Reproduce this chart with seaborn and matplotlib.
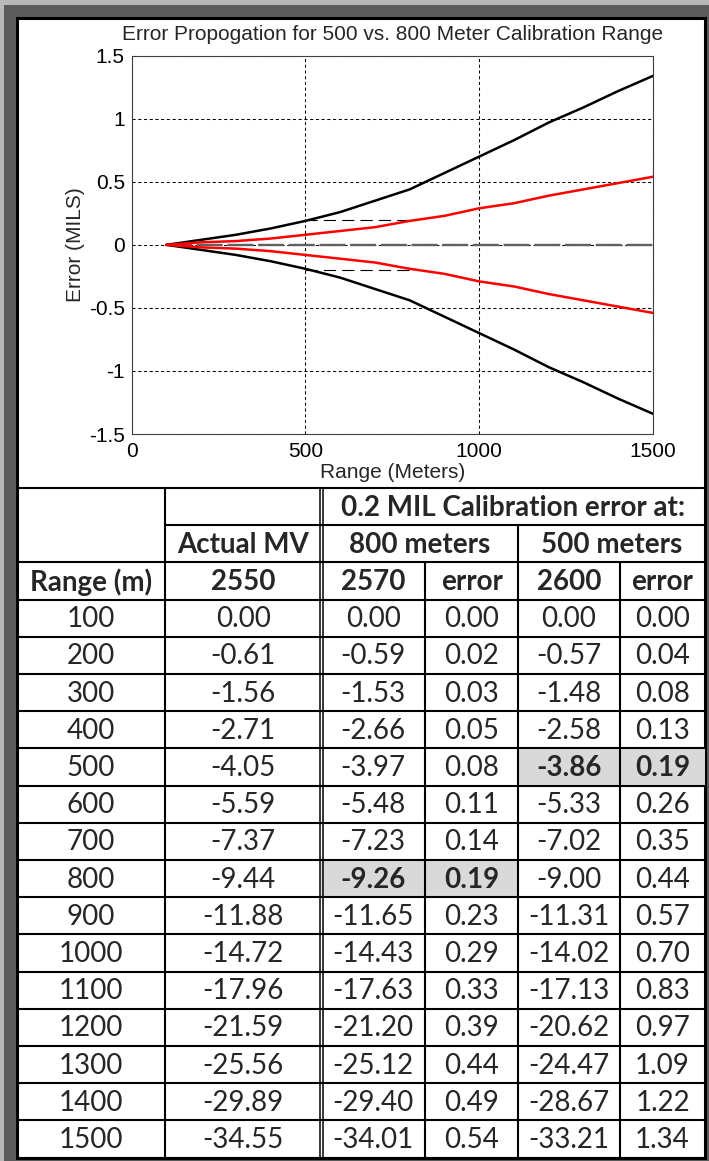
import numpy as np
import pandas as pd
import matplotlib
matplotlib.use("Agg")
import matplotlib.pyplot as plt
import seaborn as sns
from matplotlib.patches import Rectangle

ranges = [100, 200, 300, 400, 500, 600, 700, 800, 900, 1000, 1100, 1200, 1300, 1400, 1500]
actual_mv = [0.00, -0.61, -1.56, -2.71, -4.05, -5.59, -7.37, -9.44, -11.88, -14.72,
             -17.96, -21.59, -25.56, -29.89, -34.55]
mv_2570 = [0.00, -0.59, -1.53, -2.66, -3.97, -5.48, -7.23, -9.26, -11.65, -14.43,
           -17.63, -21.20, -25.12, -29.40, -34.01]
err_800 = [0.00, 0.02, 0.03, 0.05, 0.08, 0.11, 0.14, 0.19, 0.23, 0.29,
           0.33, 0.39, 0.44, 0.49, 0.54]
mv_2600 = [0.00, -0.57, -1.48, -2.58, -3.86, -5.33, -7.02, -9.00, -11.31, -14.02,
           -17.13, -20.62, -24.47, -28.67, -33.21]
err_500 = [0.00, 0.04, 0.08, 0.13, 0.19, 0.26, 0.35, 0.44, 0.57, 0.70,
           0.83, 0.97, 1.09, 1.22, 1.34]

cal_error = 0.2
cal_ranges = [500, 800]

title = "Error Propogation for 500 vs. 800 Meter Calibration Range"
xticks = [0, 500, 1000, 1500]
yticks = [-1.5, -1, -0.5, 0, 0.5, 1, 1.5]

sns.set_style("white")
plt.rcParams['font.family'] = ['Liberation Sans', 'DejaVu Sans']
plt.rcParams['axes.unicode_minus'] = False

W, H = 709, 1161
fig = plt.figure(figsize=(W / 100, H / 100), dpi=100, facecolor='#b8b8b8')

# background + frame, in pixel coords
bg = fig.add_axes([0, 0, 1, 1], zorder=0)
bg.set_xlim(0, W)
bg.set_ylim(H, 0)
bg.axis('off')
bg.add_patch(Rectangle((4, 5), W, H, facecolor='#5c5c5c', edgecolor='none'))
bg.add_patch(Rectangle((16.5, 17.5), 705 - 16.5, 1158 - 17.5,
                       facecolor='white', edgecolor='black', lw=2.2))

# ---- chart ----
ax = fig.add_axes([131.7 / W, 1 - 434 / H, (653 - 131.7) / W, (434 - 55.7) / H], zorder=2)

curves = pd.concat([
    pd.DataFrame({'range': ranges, 'error': err_500, 'curve': '500 +'}),
    pd.DataFrame({'range': ranges, 'error': [-e for e in err_500], 'curve': '500 -'}),
    pd.DataFrame({'range': ranges, 'error': err_800, 'curve': '800 +'}),
    pd.DataFrame({'range': ranges, 'error': [-e for e in err_800], 'curve': '800 -'}),
])
pal = {'500 +': 'black', '500 -': 'black', '800 +': '#ff0000', '800 -': '#ff0000'}

ax.plot([ranges[0], ranges[-1]], [0, 0], color='#606060', lw=1.7,
        dashes=(11, 2), zorder=3)
for s in (1, -1):
    ax.plot(cal_ranges, [s * cal_error] * 2, color='black', lw=0.8,
            dashes=(11, 5.5), zorder=3)
sns.lineplot(data=curves, x='range', y='error', hue='curve', palette=pal,
             estimator=None, legend=False, lw=1.8, ax=ax, zorder=4)

ax.set_xlim(0, 1500)
ax.set_ylim(-1.5, 1.5)
ax.set_xticks(xticks)
ax.set_yticks(yticks)
ax.set_xticklabels([f"{t:g}" for t in xticks])
ax.set_yticklabels([f"{t:g}" for t in yticks])
ax.grid(True, color='black', lw=0.75, ls=(0, (3, 2.5)))
ax.set_axisbelow(True)
ax.tick_params(length=0, labelsize=15, pad=5, colors='black')
ax.tick_params(axis='x', pad=6)
for sp in ax.spines.values():
    sp.set_color('#404040')
    sp.set_linewidth(0.8)
ax.set_title(title, fontsize=15, pad=11)
ax.set_xlabel("Range (Meters)", fontsize=15, labelpad=1)
ax.set_ylabel("Error (MILS)", fontsize=15, labelpad=3)

# ---- table ----
tfont = ['Lato', 'DejaVu Sans']
tsize = 20
col_edges = [16.5, 165, 321.3, 425, 518, 620, 705]
top, bottom = 488, 1157.5
nrows = 3 + len(ranges)
rh = (bottom - top) / nrows
row_edges = [top + i * rh for i in range(nrows + 1)]
lw_t = 1.5


def cx(i, j=None):
    j = i if j is None else j
    return (col_edges[i] + col_edges[j + 1]) / 2


def cy(r):
    return (row_edges[r] + row_edges[r + 1]) / 2 + 1


# shaded calibration cells
for rng, c0 in zip(cal_ranges, [4, 2]):
    r = 3 + ranges.index(rng)
    bg.add_patch(Rectangle((col_edges[c0], row_edges[r]), col_edges[c0 + 2] - col_edges[c0],
                           rh, facecolor='#d9d9d9', edgecolor='none', zorder=1))

# horizontal lines
for i, y in enumerate(row_edges):
    x0 = col_edges[1] if i == 1 else col_edges[0]
    bg.plot([x0, col_edges[-1]], [y, y], color='black', lw=lw_t, zorder=2)
# vertical lines
bg.plot([col_edges[1]] * 2, [top, bottom], color='black', lw=lw_t, zorder=2)
for x in (319.5, 323.2):
    bg.plot([x, x], [top, bottom], color='black', lw=1.1, zorder=2)
bg.plot([col_edges[4]] * 2, [row_edges[1], bottom], color='black', lw=lw_t, zorder=2)
for c in (3, 5):
    bg.plot([col_edges[c]] * 2, [row_edges[2], bottom], color='black', lw=lw_t, zorder=2)

hkw = dict(ha='center', va='center', fontsize=tsize, fontweight='bold', family=tfont, zorder=3)
bg.text(cx(2, 5), cy(0), "0.2 MIL Calibration error at:", **hkw)
bg.text(cx(1), cy(1), "Actual MV", **hkw)
bg.text(cx(2, 3), cy(1), "800 meters", **hkw)
bg.text(cx(4, 5), cy(1), "500 meters", **hkw)
for c, lab in enumerate(["Range (m)", "2550", "2570", "error", "2600", "error"]):
    bg.text(cx(c), cy(2), lab, **hkw)

for k, rng in enumerate(ranges):
    r = 3 + k
    vals = [f"{rng}", f"{actual_mv[k]:.2f}", f"{mv_2570[k]:.2f}", f"{err_800[k]:.2f}",
            f"{mv_2600[k]:.2f}", f"{err_500[k]:.2f}"]
    for c, v in enumerate(vals):
        bold = (rng == 800 and c in (2, 3)) or (rng == 500 and c in (4, 5))
        bg.text(cx(c), cy(r), v, ha='center', va='center', fontsize=tsize,
                fontweight='bold' if bold else 'normal', family=tfont, zorder=3)

fig.savefig("out.png", dpi=100, facecolor=fig.get_facecolor())
